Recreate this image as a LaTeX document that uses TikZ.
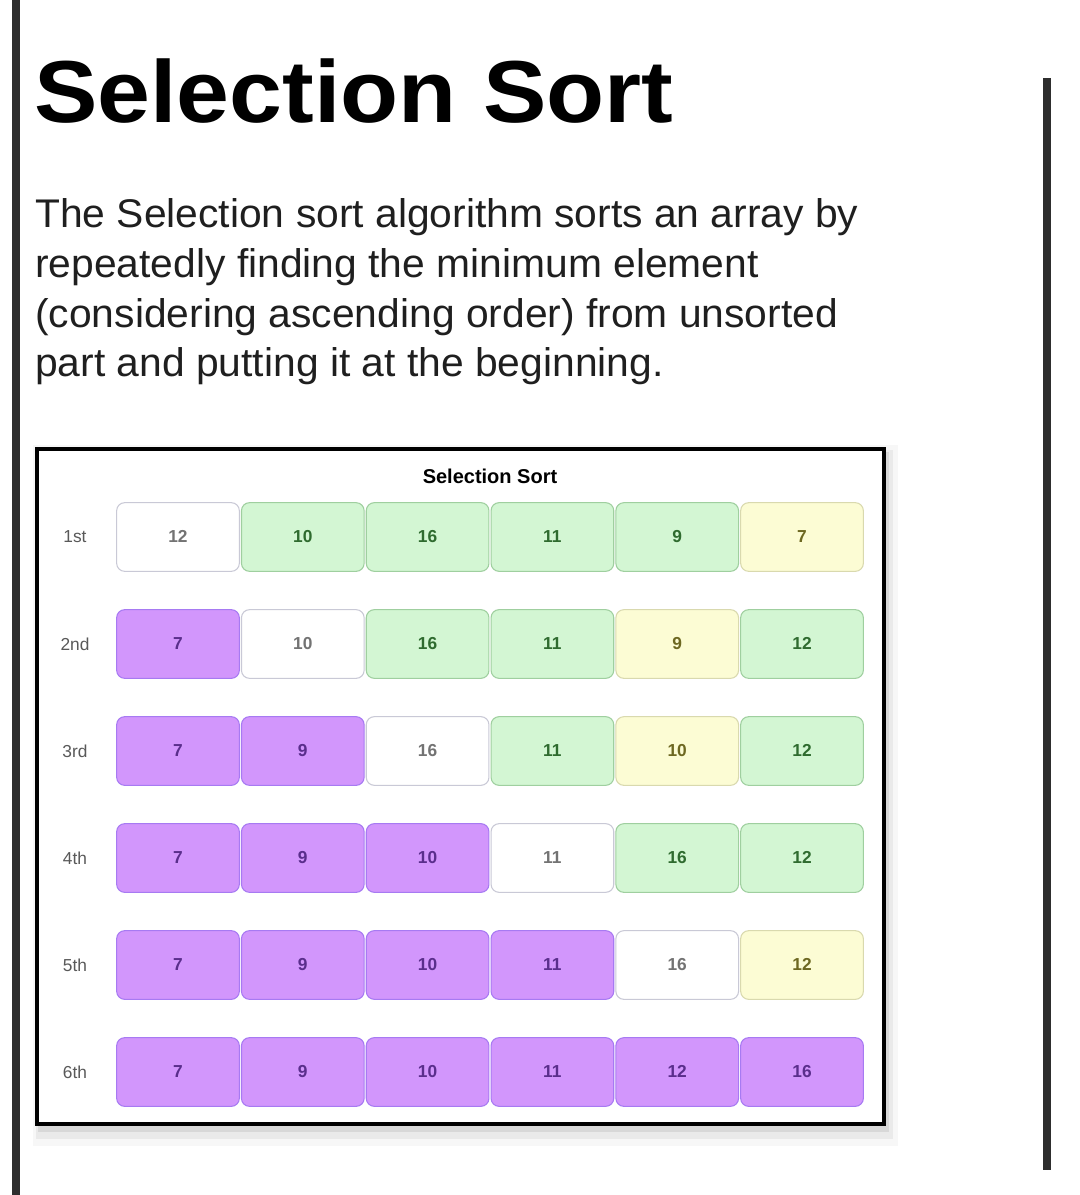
\documentclass[tikz,border=0pt]{standalone}
\usepackage{fontspec}
\setmainfont{Liberation Sans}
\newfontfamily\headfont[FakeStretch=1.08]{Liberation Sans}
\newfontfamily\bodyfont[FakeStretch=1.02]{Liberation Sans}
\definecolor{sortgreen}{HTML}{D3F6D3}
\definecolor{sortgreenline}{HTML}{9FCF9F}
\definecolor{sortpurple}{HTML}{D296FC}
\definecolor{sortpurpleline}{HTML}{A77AF2}
\definecolor{sortyellow}{HTML}{FCFCD4}
\definecolor{sortyellowline}{HTML}{D9D9AE}
\definecolor{sortwhiteline}{HTML}{C9C9D6}
\definecolor{sortpurpletext}{HTML}{5A2E8C}
\definecolor{sortgreentext}{HTML}{2F6B2F}
\definecolor{bartone}{HTML}{2E2E2E}
\tikzset{
  cell/.style={rectangle, rounded corners=6pt, minimum width=92pt, minimum height=51.5pt,
    line width=0.8pt, text height=1.6ex, text depth=0pt, font=\bfseries\fontsize{13}{13}\selectfont},
  sorted/.style={cell, fill=sortpurple, draw=sortpurpleline, text=sortpurpletext},
  unsorted/.style={cell, fill=sortgreen, draw=sortgreenline, text=sortgreentext},
  current/.style={cell, fill=white, draw=sortwhiteline, text=black!55},
  minval/.style={cell, fill=sortyellow, draw=sortyellowline, text=olive!70!black},
  rowlabel/.style={font=\fontsize{13}{13}\selectfont, text=black!65},
  introline/.style={anchor=base west, inner sep=0pt, text=black!88,
    font=\bodyfont\fontsize{30}{37.5}\selectfont}
}

\begin{document}
\begin{tikzpicture}[x=0.75pt, y=-0.75pt]
  \useasboundingbox (0,0) rectangle (1080,1195);

  % page side bars
  \fill[bartone] (12,0) rectangle (20,1195);
  \fill[bartone] (1043,78) rectangle (1051,1170);

  \node[anchor=base west, inner sep=0pt, font=\headfont\bfseries\fontsize{66}{66}\selectfont] (title) at (34,123) {Selection Sort};

  \node[introline] (intro1) at (35,227) {The Selection sort algorithm sorts an array by};
  \node[introline] (intro2) at (35,277) {repeatedly finding the minimum element};
  \node[introline] (intro3) at (35,327) {(considering ascending order) from unsorted};
  \node[introline] (intro4) at (35,376) {part and putting it at the beginning.};

  % chart frame with soft shadow
  \fill[black, opacity=0.03] (33,445) rectangle (898,1146);
  \fill[black, opacity=0.05] (36,450) rectangle (893,1139);
  \fill[black, opacity=0.08] (38,452) rectangle (889,1132);
  \draw[line width=2.8pt, fill=white] (37,449) rectangle (884,1124);
  \node[font=\bfseries\fontsize{15}{15}\selectfont] (charttitle) at (490,476) {Selection Sort};

  % column and row positions
  \coordinate (c1) at (178,0);   \coordinate (c2) at (302.8,0);
  \coordinate (c3) at (427.6,0); \coordinate (c4) at (552.4,0);
  \coordinate (c5) at (677.2,0); \coordinate (c6) at (802,0);
  \coordinate (r1) at (0,537);   \coordinate (r2) at (0,644);
  \coordinate (r3) at (0,751);   \coordinate (r4) at (0,858);
  \coordinate (r5) at (0,965);   \coordinate (r6) at (0,1072);

  \node[rowlabel] (l1) at (75,537) {1st};
  \node[rowlabel] (l2) at (75,644) {2nd};
  \node[rowlabel] (l3) at (75,751) {3rd};
  \node[rowlabel] (l4) at (75,858) {4th};
  \node[rowlabel] (l5) at (75,965) {5th};
  \node[rowlabel] (l6) at (75,1072) {6th};

  % 1st pass
  \node[current]  (r1c1) at (c1 |- r1) {12};
  \node[unsorted] (r1c2) at (c2 |- r1) {10};
  \node[unsorted] (r1c3) at (c3 |- r1) {16};
  \node[unsorted] (r1c4) at (c4 |- r1) {11};
  \node[unsorted] (r1c5) at (c5 |- r1) {9};
  \node[minval]   (r1c6) at (c6 |- r1) {7};
  % 2nd pass
  \node[sorted]   (r2c1) at (c1 |- r2) {7};
  \node[current]  (r2c2) at (c2 |- r2) {10};
  \node[unsorted] (r2c3) at (c3 |- r2) {16};
  \node[unsorted] (r2c4) at (c4 |- r2) {11};
  \node[minval]   (r2c5) at (c5 |- r2) {9};
  \node[unsorted] (r2c6) at (c6 |- r2) {12};
  % 3rd pass
  \node[sorted]   (r3c1) at (c1 |- r3) {7};
  \node[sorted]   (r3c2) at (c2 |- r3) {9};
  \node[current]  (r3c3) at (c3 |- r3) {16};
  \node[unsorted] (r3c4) at (c4 |- r3) {11};
  \node[minval]   (r3c5) at (c5 |- r3) {10};
  \node[unsorted] (r3c6) at (c6 |- r3) {12};
  % 4th pass
  \node[sorted]   (r4c1) at (c1 |- r4) {7};
  \node[sorted]   (r4c2) at (c2 |- r4) {9};
  \node[sorted]   (r4c3) at (c3 |- r4) {10};
  \node[current]  (r4c4) at (c4 |- r4) {11};
  \node[unsorted] (r4c5) at (c5 |- r4) {16};
  \node[unsorted] (r4c6) at (c6 |- r4) {12};
  % 5th pass
  \node[sorted]   (r5c1) at (c1 |- r5) {7};
  \node[sorted]   (r5c2) at (c2 |- r5) {9};
  \node[sorted]   (r5c3) at (c3 |- r5) {10};
  \node[sorted]   (r5c4) at (c4 |- r5) {11};
  \node[current]  (r5c5) at (c5 |- r5) {16};
  \node[minval]   (r5c6) at (c6 |- r5) {12};
  % 6th pass
  \node[sorted]   (r6c1) at (c1 |- r6) {7};
  \node[sorted]   (r6c2) at (c2 |- r6) {9};
  \node[sorted]   (r6c3) at (c3 |- r6) {10};
  \node[sorted]   (r6c4) at (c4 |- r6) {11};
  \node[sorted]   (r6c5) at (c5 |- r6) {12};
  \node[sorted]   (r6c6) at (c6 |- r6) {16};
\end{tikzpicture}
\end{document}
